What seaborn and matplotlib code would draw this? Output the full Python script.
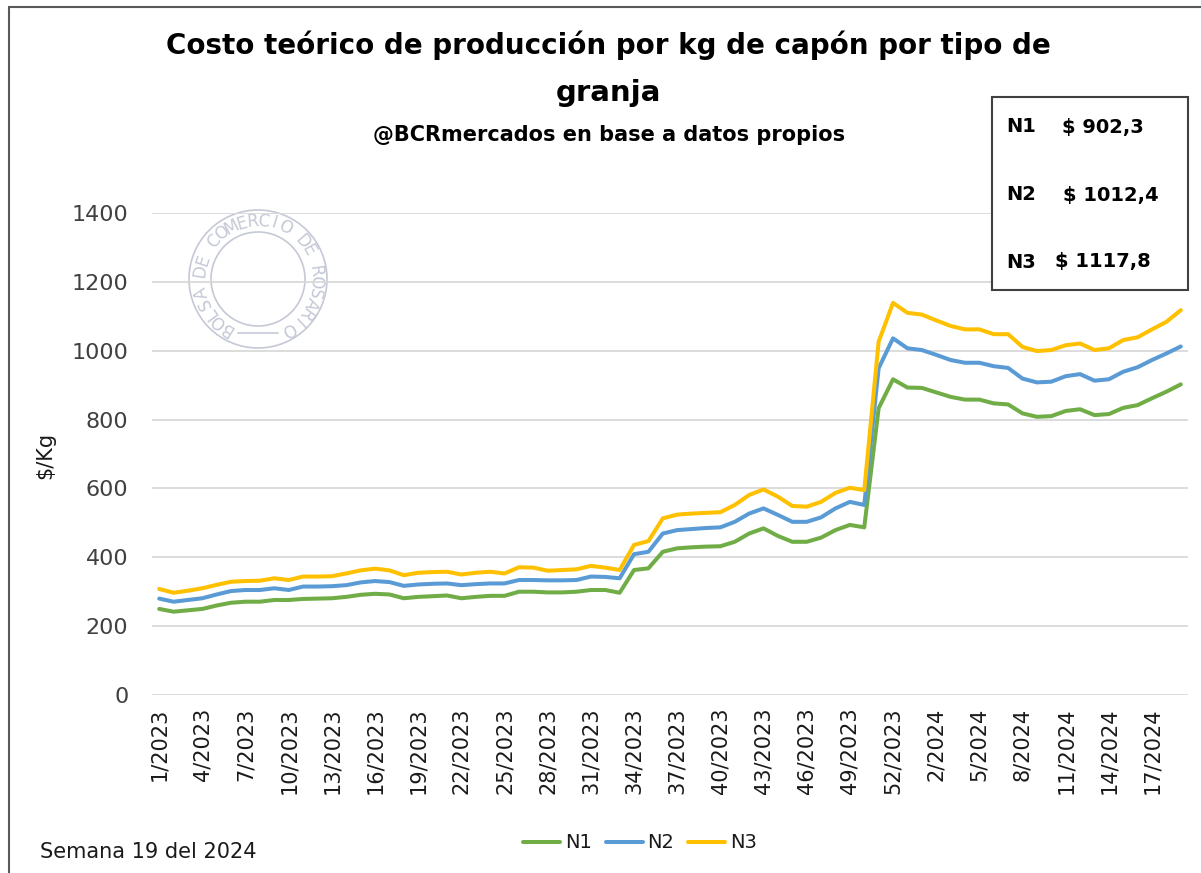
import numpy as np
import pandas as pd
import matplotlib
matplotlib.use("Agg")
import matplotlib.pyplot as plt
import seaborn as sns
from matplotlib.patches import Rectangle, Circle
from matplotlib.lines import Line2D

# semanas: 53 de 2023 + 19 de 2024
weeks = [f"{w}/2023" for w in range(1, 54)] + [f"{w}/2024" for w in range(1, 20)]

n1 = [250, 242, 246, 250, 260, 268, 271, 271, 276, 276, 279, 280, 281, 285, 291, 294,
      292, 281, 285, 287, 289, 281, 285, 288, 288, 300, 300, 298, 298, 300, 305, 305,
      297, 363, 368, 416, 426, 429, 431, 432, 445, 469, 484, 462, 445, 445, 457, 479,
      494, 487, 833, 917, 893, 892, 879, 866, 858, 858, 847, 844, 818, 808, 810, 825,
      830, 813, 816, 834, 842, 862, 881, 902.3]
n2 = [280, 271, 276, 281, 292, 302, 305, 305, 310, 305, 315, 315, 316, 319, 327, 331,
      328, 317, 321, 323, 324, 319, 322, 324, 324, 334, 334, 333, 333, 334, 344, 343,
      339, 409, 416, 469, 479, 482, 485, 487, 503, 527, 542, 523, 503, 503, 516, 542,
      561, 552, 949, 1036, 1007, 1002, 988, 973, 965, 965, 955, 950, 919, 908, 910, 926,
      932, 913, 917, 939, 952, 973, 992, 1012.4]
n3 = [308, 297, 303, 310, 320, 329, 331, 332, 339, 334, 344, 344, 345, 353, 362, 367,
      362, 348, 355, 357, 358, 350, 355, 358, 353, 371, 370, 361, 363, 365, 375, 370,
      363, 436, 447, 513, 524, 527, 529, 531, 552, 581, 597, 576, 549, 547, 561, 587,
      602, 595, 1026, 1139, 1110, 1105, 1088, 1072, 1062, 1062, 1048, 1048, 1011, 999,
      1002, 1016, 1021, 1002, 1007, 1031, 1039, 1062, 1084, 1117.8]

series = ["N1", "N2", "N3"]
colors = {"N1": "#70AD47", "N2": "#5B9BD5", "N3": "#FFC000"}

df = pd.DataFrame({"idx": np.arange(len(weeks)), "N1": n1, "N2": n2, "N3": n3})
df = df.melt(id_vars="idx", var_name="serie", value_name="costo")

sns.set_theme(style="white")
plt.rcParams["font.family"] = ["DejaVu Sans"]

W, H = 1201, 873
fig = plt.figure(figsize=(W / 100, H / 100), dpi=100)

def fx(px):
    return px / W

def fy(py):
    return 1 - py / H

ax = fig.add_axes([fx(152), fy(695), fx(1188) - fx(152), fy(213) - fy(695)])
ax.set_facecolor("none")

sns.lineplot(data=df, x="idx", y="costo", hue="serie", hue_order=series,
             palette=colors, lw=2.9, ax=ax)

ax.set_xlim(-0.5, len(weeks) - 0.5)
ax.set_ylim(0, 1400)
ax.set_yticks(range(0, 1401, 200))
ax.yaxis.grid(True, color="#d9d9d9", lw=1.3)
ax.set_axisbelow(True)
for s in ax.spines.values():
    s.set_visible(False)

tick_pos = list(range(0, len(weeks), 3))
ax.set_xticks(tick_pos)
ax.set_xticklabels([weeks[i] for i in tick_pos], rotation=90, fontsize=15, color="#1a1a1a")
ax.tick_params(axis="x", length=0, pad=9)
ax.tick_params(axis="y", length=0, pad=17, labelsize=16, labelcolor="#404040")
ax.set_xlabel("")
ax.set_ylabel("")

sns.move_legend(ax, loc="center", bbox_to_anchor=(fx(640), fy(843)),
                bbox_transform=fig.transFigure, ncol=3, frameon=False, title=None,
                fontsize=14, handlelength=1.9, columnspacing=0.7, handletextpad=0.25)
for t in ax.get_legend().get_texts():
    t.set_color("#1a1a1a")

fig.text(fx(45), fy(455), "$/Kg", rotation=90, ha="center", va="center", fontsize=15,
         color="#1a1a1a")

# titulos
fig.text(fx(608), fy(45), "Costo teórico de producción por kg de capón por tipo de",
         ha="center", va="center", fontsize=20, fontweight="bold", color="black")
fig.text(fx(608), fy(93), "granja", ha="center", va="center", fontsize=21,
         fontweight="bold", color="black")
fig.text(fx(609), fy(135), "@BCRmercados en base a datos propios", ha="center",
         va="center", fontsize=15, fontweight="bold", color="black")

fig.text(fx(40), fy(852), "Semana 19 del 2024", ha="left", va="center", fontsize=15,
         color="#1a1a1a")

# recuadro con ultimos valores
fig.add_artist(Rectangle((fx(992), fy(290)), fx(1188) - fx(992), fy(97) - fy(290),
                         transform=fig.transFigure, fc="white", ec="#404040", lw=1.5,
                         zorder=5))
last = {"N1": n1[-1], "N2": n2[-1], "N3": n3[-1]}
rows = [("N1", 127, 1062), ("N2", 195, 1063), ("N3", 262, 1055)]
for name, py, vx in rows:
    fig.text(fx(1006), fy(py), name, ha="left", va="center", fontsize=14,
             fontweight="bold", color="black", zorder=6)
    fig.text(fx(vx), fy(py), f"$ {last[name]:.1f}".replace(".", ","), ha="left",
             va="center", fontsize=14, fontweight="bold", color="black", zorder=6)

# borde del grafico
fig.add_artist(Line2D([fx(9), 1], [fy(7), fy(7)], transform=fig.transFigure,
                      color="#595959", lw=1.5))
fig.add_artist(Line2D([fx(9), fx(9)], [0, fy(7)], transform=fig.transFigure,
                      color="#595959", lw=1.5))

# sello de agua
cx, cy = 258, 279
wm = "#c5c9d6"
for r in (69, 47):
    fig.add_artist(Circle((cx / 100, (H - cy) / 100), r / 100, transform=fig.dpi_scale_trans,
                          fill=False, ec=wm, lw=1.2, zorder=-1))
fig.add_artist(Line2D([fx(238), fx(278)], [fy(333), fy(333)], transform=fig.transFigure,
                      color=wm, lw=1.2, zorder=-1))
seal = "BOLSA DE COMERCIO DE ROSARIO"
angles = np.linspace(238, -58, len(seal))
for ch, a in zip(seal, angles):
    t = np.deg2rad(a)
    px = cx + 58 * np.cos(t)
    py = cy - 58 * np.sin(t)
    fig.text(fx(px), fy(py), ch, ha="center", va="center", rotation=a - 90,
             fontsize=12, color=wm, zorder=-1)

fig.savefig("out.png", dpi=100)
